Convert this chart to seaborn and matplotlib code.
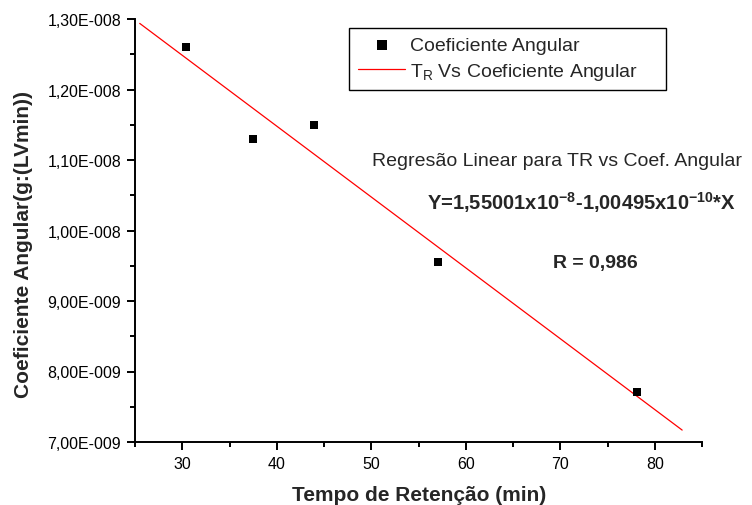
import numpy as np
import matplotlib
matplotlib.use("Agg")
import matplotlib.pyplot as plt
import seaborn as sns
from matplotlib.ticker import AutoMinorLocator, MultipleLocator

# data
tempo = [30.4, 37.5, 43.9, 57.1, 78.1]
coef = [1.260e-8, 1.130e-8, 1.150e-8, 9.56e-9, 7.71e-9]

# regression from the annotation: Y = A + B*X
fit_a = 1.55001e-8
fit_b = -1.00495e-10
fit_x = [25.5, 82.9]

x_ticks = [30, 40, 50, 60, 70, 80]
y_ticks = [7e-9, 8e-9, 9e-9, 1.0e-8, 1.1e-8, 1.2e-8, 1.3e-8]
y_tick_labels = ["7,00E-009", "8,00E-009", "9,00E-009", "1,00E-008",
                 "1,10E-008", "1,20E-008", "1,30E-008"]

sns.set_style("ticks")
plt.rcParams["font.family"] = ["Liberation Sans", "DejaVu Sans"]
plt.rcParams["axes.linewidth"] = 1.4

W, H = 752, 506
fig = plt.figure(figsize=(W / 100, H / 100), dpi=100)
ax = fig.add_axes([135 / W, 1 - 443 / H, (702 - 135) / W, (443 - 20) / H])

fit_y = [fit_a + fit_b * x for x in fit_x]

sns.scatterplot(x=tempo, y=coef, marker="s", color="black", s=38,
                linewidth=0, label="Coeficiente Angular", ax=ax, zorder=3)
sns.lineplot(x=fit_x, y=fit_y, color="#ff0000", linewidth=0.9,
             label=r"T$_\mathregular{R}$ Vs Coeficiente Angular", ax=ax)

ax.set_xlim(25, 85)
ax.set_ylim(7e-9, 1.3e-8)
ax.set_xticks(x_ticks)
ax.xaxis.set_minor_locator(AutoMinorLocator(2))
ax.set_yticks(y_ticks, y_tick_labels)
ax.yaxis.set_minor_locator(MultipleLocator(0.5e-9))
ax.tick_params(which="major", direction="out", length=6, width=1.4,
               labelsize=11.5, color="black", labelcolor="black", pad=4)
ax.tick_params(which="minor", direction="out", length=3.5, width=1.4, color="black")
sns.despine(ax=ax)
for s in ("left", "bottom"):
    ax.spines[s].set_color("black")

ax.set_xlabel("")
ax.set_ylabel("")
fig.text(419.5 / W, 1 - 501 / H, "Tempo de Retenção (min)", ha="center",
         va="baseline", fontsize=15, fontweight="bold")
fig.text(24 / W, 1 - 244.5 / H, "Coeficiente Angular(g:(LVmin))", ha="center",
         va="center", rotation=90, fontsize=15, fontweight="bold")

leg = ax.legend(loc="upper left", mode="expand",
                bbox_to_anchor=(349 / W, 1 - 91 / H, (666 - 349) / W, 62 / H),
                bbox_transform=fig.transFigure, borderaxespad=0,
                fontsize=14, frameon=True, fancybox=False, framealpha=1,
                edgecolor="black", handlelength=2.45, handletextpad=0.25,
                labelspacing=0.32, borderpad=0.45, markerscale=1.1)
leg.get_frame().set_linewidth(1.0)

fig.text(372 / W, 1 - 166 / H, "Regresão Linear para TR vs Coef. Angular",
         ha="left", va="baseline", fontsize=14)
fig.text(427 / W, 1 - 210 / H,
         r"Y=1,55001x10$^{\mathregular{-8}}$-1,00495x10$^{\mathregular{-10}}$*X",
         ha="left", va="baseline", fontsize=14.5, fontweight="bold")
fig.text(553 / W, 1 - 268 / H, "R = 0,986", ha="left", va="baseline",
         fontsize=14, fontweight="bold")

fig.savefig("out.png", dpi=100)
